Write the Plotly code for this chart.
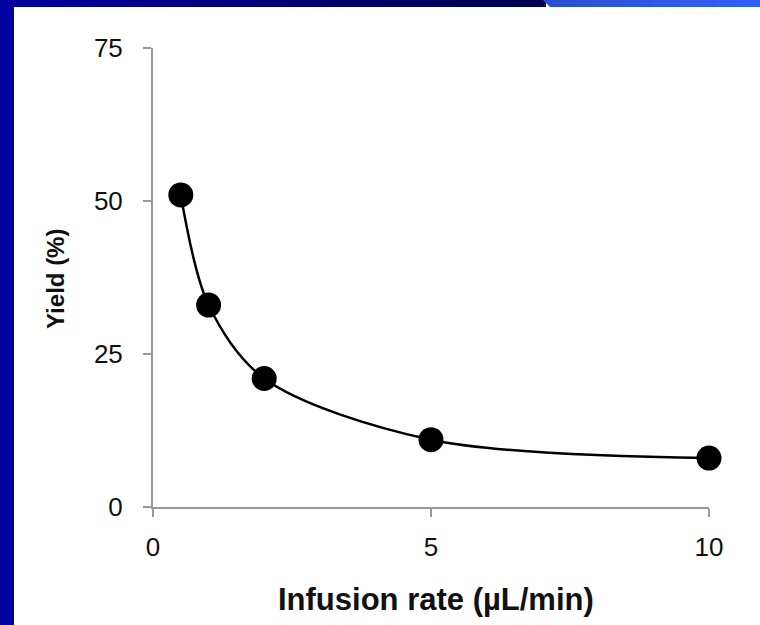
import plotly.graph_objects as go

# Data
infusion_rate = [0.5, 1, 2, 5, 10]
yield_pct = [51, 33, 21, 11, 8]
x_ticks = [0, 5, 10]
y_ticks = [0, 25, 50, 75]

W, H = 760, 625
L, R, T, B = 153, 709, 48, 507  # plot area pixel bounds


def px_x(px):
    return (px - L) / (R - L)


def px_y(py):
    return (B - py) / (B - T)


fig = go.Figure()
fig.add_trace(go.Scatter(
    x=infusion_rate, y=yield_pct, mode="lines+markers",
    line=dict(color="black", width=2.5, shape="spline", smoothing=0.9),
    marker=dict(color="black", size=25),
    showlegend=False, cliponaxis=False,
))

shapes = []
# left blue bar
shapes.append(dict(type="rect", xref="paper", yref="paper", x0=px_x(0), x1=px_x(14),
                   y0=px_y(H), y1=px_y(0), fillcolor="#0000A0", line_width=0, layer="below"))
n = 30
# top bar gradient (dark part)
c0 = (0, 0, 160)
c1 = (0, 0, 80)
x_start, x_end = 0, 546
for i in range(n):
    a = x_start + (x_end - x_start) * i / n
    b = x_start + (x_end - x_start) * (i + 1) / n + 1
    t = i / (n - 1)
    col = "rgb(%d,%d,%d)" % tuple(round(c0[k] + (c1[k] - c0[k]) * t) for k in range(3))
    shapes.append(dict(type="rect", xref="paper", yref="paper", x0=px_x(a), x1=px_x(min(b, x_end)),
                       y0=px_y(7), y1=px_y(0), fillcolor=col, line_width=0, layer="below"))
# top bar light part (with slanted left edge)
c2 = (42, 80, 208)
c3 = (48, 96, 248)
x_start2, x_end2 = 546, W
m = 14
for i in range(m):
    a = x_start2 + (x_end2 - x_start2) * i / m
    b = x_start2 + (x_end2 - x_start2) * (i + 1) / m + 1
    t = i / (m - 1)
    col = "rgb(%d,%d,%d)" % tuple(round(c2[k] + (c3[k] - c2[k]) * t) for k in range(3))
    if i == 0:
        path = "M %f,%f L %f,%f L %f,%f L %f,%f Z" % (
            px_x(543), px_y(0), px_x(b), px_y(0), px_x(b), px_y(7), px_x(550), px_y(7))
        shapes.append(dict(type="path", xref="paper", yref="paper", path=path,
                           fillcolor=col, line_width=0, layer="below"))
    else:
        shapes.append(dict(type="rect", xref="paper", yref="paper", x0=px_x(a), x1=px_x(min(b, x_end2)),
                           y0=px_y(7), y1=px_y(0), fillcolor=col, line_width=0, layer="below"))

FONT = "Liberation Sans, Arial, sans-serif"
axis_font = dict(family=FONT, size=26, color="#111")

fig.update_layout(
    width=W, height=H,
    margin=dict(l=L, r=W - R, t=T, b=H - B, pad=0),
    paper_bgcolor="white", plot_bgcolor="white",
    shapes=shapes,
    xaxis=dict(range=[0, 10], tickvals=x_ticks, ticktext=[str(v) for v in x_ticks],
               showgrid=False, zeroline=False, showline=True, linecolor="#999", linewidth=2,
               ticks="outside", ticklen=8, tickcolor="#999", tickwidth=2,
               tickfont=axis_font, ticklabelstandoff=8, fixedrange=True),
    yaxis=dict(range=[0, 75], tickvals=y_ticks, ticktext=[str(v) for v in y_ticks],
               showgrid=False, zeroline=False, showline=True, linecolor="#999", linewidth=2,
               ticks="outside", ticklen=8, tickcolor="#999", tickwidth=2,
               tickfont=axis_font, ticklabelstandoff=15, fixedrange=True),
    annotations=[
        dict(text="<b>Infusion rate (µL/min)</b>", xref="paper", yref="paper",
             x=px_x(436), y=px_y(599), showarrow=False, xanchor="center", yanchor="middle",
             font=dict(family=FONT, size=31, color="#111")),
        dict(text="<b>Yield (%)</b>", xref="paper", yref="paper",
             x=px_x(55), y=px_y(279), showarrow=False, xanchor="center", yanchor="middle",
             textangle=-90,
             font=dict(family=FONT, size=24, color="#111")),
    ],
)

fig.write_html("out.html", config={"displayModeBar": False},
               post_script="document.body.style.margin='0';document.body.style.padding='0';")
